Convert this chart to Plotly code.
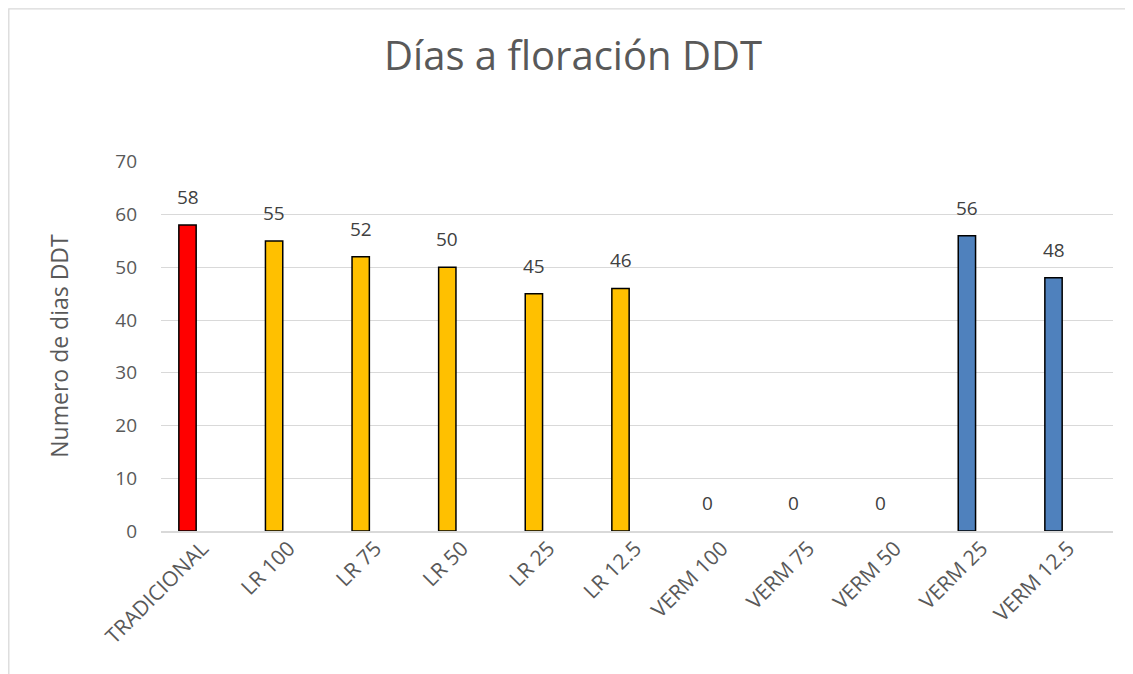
import plotly.graph_objects as go

categories = ["TRADICIONAL", "LR 100", "LR 75", "LR 50", "LR 25", "LR 12.5",
              "VERM 100", "VERM 75", "VERM 50", "VERM 25", "VERM 12.5"]
values = [58, 55, 52, 50, 45, 46, 0, 0, 0, 56, 48]
bar_colors = ["#FF0000", "#FFC000", "#FFC000", "#FFC000", "#FFC000", "#FFC000",
              "#FFC000", "#FFC000", "#FFC000", "#4F81BD", "#4F81BD"]
y_ticks = [0, 10, 20, 30, 40, 50, 60, 70]

FONT = "Open Sans, Liberation Sans, sans-serif"

# page body has an 8px margin; figure is sized so the plot lands where the reference has it
W, H = 1125, 666
L, R, T, B = 153, 20, 153, 143
PW, PH = W - L - R, H - T - B

X_RANGE = [-0.306, 10.687]
LABEL_SHIFT = 0.17

fig = go.Figure()
fig.add_trace(go.Bar(
    x=categories, y=values,
    marker=dict(color=bar_colors,
                line=dict(color="#000000", width=[1.5 if v > 0 else 0 for v in values])),
    width=0.2,
    cliponaxis=False,
))
# invisible trace carrying the category tick labels on an overlaid axis
fig.add_trace(go.Scatter(x=categories, y=values, xaxis="x2", mode="none",
                         hoverinfo="skip", showlegend=False))

for c, v in zip(categories, values):
    fig.add_annotation(x=c, y=v, text=str(v), showarrow=False, yanchor="bottom",
                       yshift=13, font=dict(family=FONT, size=19, color="#404040"))

fig.update_layout(
    width=W, height=H,
    paper_bgcolor="white", plot_bgcolor="white",
    margin=dict(l=L, r=R, t=T, b=B),
    title=dict(text="Días a floración DDT", x=(573 - 8) / W, xanchor="center",
               y=1 - (56 - 8) / H, yanchor="middle",
               font=dict(family=FONT, size=40, color="#595959")),
    showlegend=False,
    xaxis=dict(type="category", categoryarray=categories, range=X_RANGE,
               showticklabels=False, showline=True, linecolor="#D9D9D9",
               linewidth=1.5, ticks="", showgrid=False),
    xaxis2=dict(type="category", categoryarray=categories, overlaying="x", side="bottom",
                anchor="y",
                range=[X_RANGE[0] - LABEL_SHIFT, X_RANGE[1] - LABEL_SHIFT],
                tickangle=-45, tickfont=dict(family=FONT, size=21, color="#595959"),
                showline=False, ticks="", showgrid=False),
)
fig.update_yaxes(
    range=[0, 70.15], tickvals=y_ticks, tickfont=dict(family=FONT, size=19, color="#595959"),
    showgrid=True, gridcolor="#D9D9D9", gridwidth=1.3, zeroline=False,
    ticks="", ticklabelstandoff=23,
    title=dict(text="Numero de dias DDT", font=dict(family=FONT, size=23, color="#595959"),
               standoff=40),
)
fig.add_shape(type="rect", xref="paper", yref="paper",
              x0=(0.8 - L) / PW, x1=(W + 10 - L) / PW,
              y0=(H - B - H - 10) / PH, y1=(H - B - 0.8) / PH,
              line=dict(color="#D9D9D9", width=1.3), fillcolor="rgba(0,0,0,0)", layer="below")

fig.write_html("out.html")
